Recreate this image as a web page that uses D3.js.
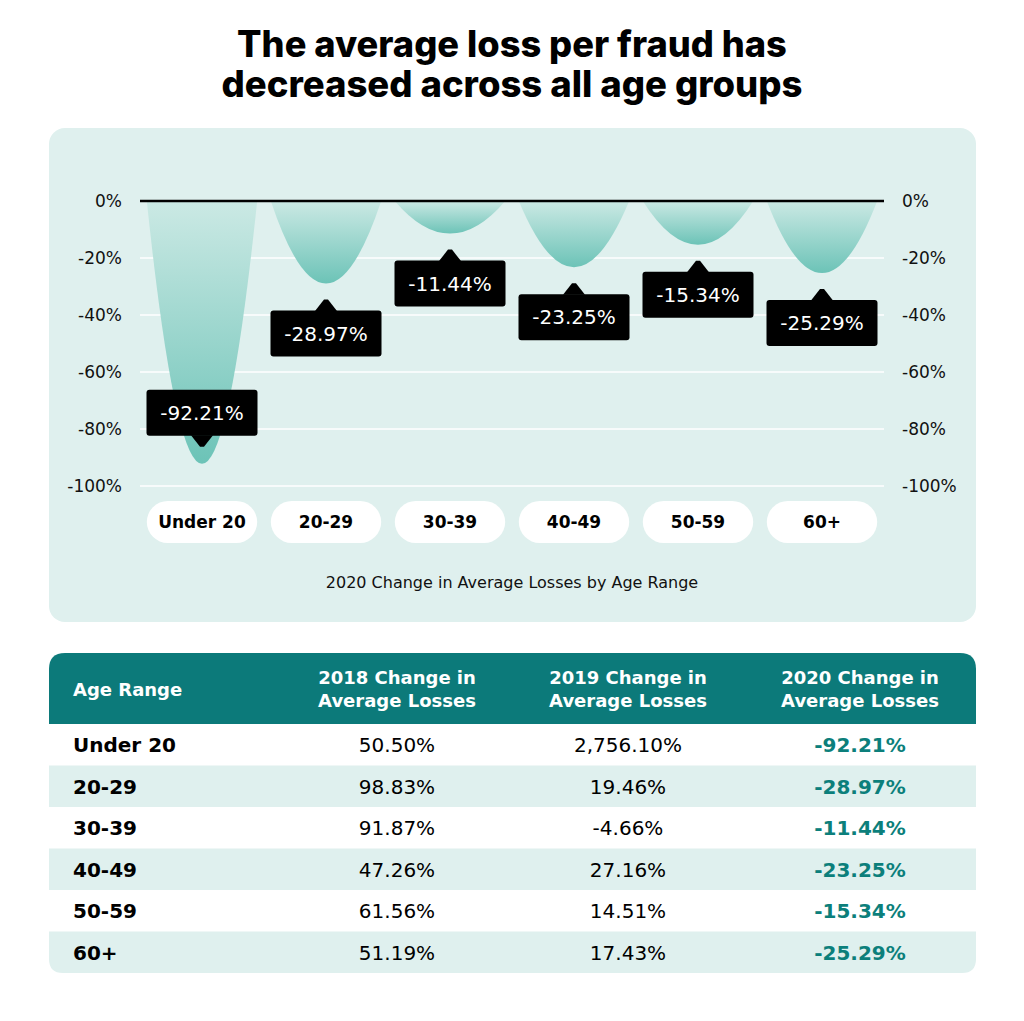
<!DOCTYPE html>
<html>
<head>
<meta charset="utf-8">
<script src="https://cdn.jsdelivr.net/npm/d3@7"></script>
<style>
  html, body { margin: 0; padding: 0; background: #ffffff; }
  svg { display: block; }
</style>
</head>
<body>
<svg id="chart" width="1024" height="1021"></svg>
<script>
// ---------------- data ----------------
const titleLines = ["The average loss per fraud has", "decreased across all age groups"];
const categories = ["Under 20", "20-29", "30-39", "40-49", "50-59", "60+"];
const change2020 = [-92.21, -28.97, -11.44, -23.25, -15.34, -25.29];
const change2018 = [50.50, 98.83, 91.87, 47.26, 61.56, 51.19];
const change2019 = [2756.10, 19.46, -4.66, 27.16, 14.51, 17.43];
const yTicks = [0, -20, -40, -60, -80, -100];
const axisTitle = "2020 Change in Average Losses by Age Range";
const tableHeaders = [["Age Range"], ["2018 Change in", "Average Losses"], ["2019 Change in", "Average Losses"], ["2020 Change in", "Average Losses"]];

// ---------------- setup ----------------
const FONT = "'DejaVu Sans', Verdana, sans-serif";
const svg = d3.select("#chart");
const fmt = d3.formatLocale({ decimal: ".", thousands: ",", grouping: [3], currency: ["", ""], minus: "-" }).format(",.2f");
const pct = v => fmt(v) + "%";

// title
const titleG = svg.append("g");
const titleTargets = [550, 581];
titleLines.forEach((t, i) => {
  const txt = titleG.append("text")
    .attr("x", 512).attr("y", 57 + i * 40)
    .attr("text-anchor", "middle")
    .attr("font-family", "Inter, 'Open Sans', sans-serif")
    .attr("font-weight", 800)
    .attr("font-size", 34)
    .attr("fill", "#000")
    .text(t);
  const w = txt.node().getComputedTextLength();
  if (w > 0) txt.attr("font-size", 34 * titleTargets[i] / w);
});

// chart panel
svg.append("rect")
  .attr("x", 49).attr("y", 128).attr("width", 927).attr("height", 494)
  .attr("rx", 16).attr("fill", "#dff0ee");

const x = d3.scaleBand().domain(categories).range([140, 884]).paddingInner(0.11).paddingOuter(0.055);
const y = d3.scaleLinear().domain([-100, 0]).range([486, 201]);

// gradient
const defs = svg.append("defs");
const grad = defs.append("linearGradient").attr("id", "cone").attr("x1", 0).attr("y1", 0).attr("x2", 0).attr("y2", 1);
grad.append("stop").attr("offset", "0%").attr("stop-color", "#cbe9e4");
grad.append("stop").attr("offset", "100%").attr("stop-color", "#6cc3b7");

// gridlines
svg.append("g")
  .selectAll("line")
  .data(yTicks.filter(d => d !== 0))
  .join("line")
  .attr("x1", 140).attr("x2", 884)
  .attr("y1", d => y(d)).attr("y2", d => y(d))
  .attr("stroke", "#ffffff").attr("stroke-width", 1.5);

// axes labels (left & right)
const leftAxis = d3.axisLeft(y).tickValues(yTicks).tickFormat(d => d + "%").tickSize(0).tickPadding(0);
const rightAxis = d3.axisRight(y).tickValues(yTicks).tickFormat(d => d + "%").tickSize(0).tickPadding(0);
const gl = svg.append("g").attr("transform", "translate(122,0)").call(leftAxis);
const gr = svg.append("g").attr("transform", "translate(902,0)").call(rightAxis);
[gl, gr].forEach(g => {
  g.select(".domain").remove();
  g.selectAll("text").attr("font-family", FONT).attr("font-size", 17).attr("fill", "#111");
});

// cone shapes (quadratic curve reaching the value)
svg.append("g")
  .selectAll("path")
  .data(categories.map((c, i) => ({ c, v: change2020[i] })))
  .join("path")
  .attr("d", d => {
    const x0 = x(d.c), x1 = x(d.c) + x.bandwidth(), xm = x0 + x.bandwidth() / 2;
    const y0 = y(0), yv = y(d.v);
    return `M${x0},${y0} Q${xm},${y0 + 2 * (yv - y0)} ${x1},${y0} Z`;
  })
  .attr("fill", "url(#cone)");

// zero line
svg.append("line")
  .attr("x1", 140).attr("x2", 884).attr("y1", y(0)).attr("y2", y(0))
  .attr("stroke", "#000").attr("stroke-width", 2.5);

// tooltips
const boxW = 111, boxH = 46, gap = 16, ptrH = 11, ptrW = 22;
const tips = svg.append("g")
  .selectAll("g")
  .data(categories.map((c, i) => ({ c, v: change2020[i] })))
  .join("g");
tips.each(function (d) {
  const g = d3.select(this);
  const xm = x(d.c) + x.bandwidth() / 2;
  const yv = y(d.v);
  const below = yv + gap + ptrH + boxH <= y(-100);
  let boxTop, tipY, baseY;
  if (below) {
    tipY = yv + gap; baseY = tipY + ptrH; boxTop = baseY;
  } else {
    tipY = yv - gap - 1; baseY = tipY - ptrH; boxTop = baseY - boxH;
  }
  g.append("rect")
    .attr("x", xm - boxW / 2).attr("y", boxTop).attr("width", boxW).attr("height", boxH)
    .attr("rx", 3).attr("fill", "#000");
  g.append("path")
    .attr("d", `M${xm - ptrW / 2},${baseY + (below ? 0.5 : -0.5)} L${xm - 2},${tipY} L${xm + 2},${tipY} L${xm + ptrW / 2},${baseY + (below ? 0.5 : -0.5)} Z`)
    .attr("fill", "#000");
  g.append("text")
    .attr("x", xm).attr("y", boxTop + boxH / 2 + 7)
    .attr("text-anchor", "middle")
    .attr("font-family", FONT).attr("font-size", 20).attr("fill", "#fff")
    .text(pct(d.v));
});

// category pills
const pills = svg.append("g").selectAll("g").data(categories).join("g");
pills.append("rect")
  .attr("x", d => x(d)).attr("y", 501).attr("width", x.bandwidth()).attr("height", 42)
  .attr("rx", 21).attr("fill", "#fff");
pills.append("text")
  .attr("x", d => x(d) + x.bandwidth() / 2).attr("y", 528)
  .attr("text-anchor", "middle")
  .attr("font-family", FONT).attr("font-weight", "bold").attr("font-size", 17).attr("fill", "#000")
  .text(d => d);

svg.append("text")
  .attr("x", 512).attr("y", 588).attr("text-anchor", "middle")
  .attr("font-family", FONT).attr("font-size", 16).attr("fill", "#111")
  .text(axisTitle);

// ---------------- table ----------------
const tX = 49, tW = 927, tTop = 653, headH = 71, rowH = 41.5, r = 16;
const colX = [73, 397, 628, 860];
// header with rounded top corners
svg.append("path")
  .attr("d", `M${tX},${tTop + headH} V${tTop + r} Q${tX},${tTop} ${tX + r},${tTop} H${tX + tW - r} Q${tX + tW},${tTop} ${tX + tW},${tTop + r} V${tTop + headH} Z`)
  .attr("fill", "#0c7a7a");
tableHeaders.forEach((lines, i) => {
  const t = svg.append("text")
    .attr("x", colX[i]).attr("text-anchor", i === 0 ? "start" : "middle")
    .attr("font-family", FONT).attr("font-weight", "bold").attr("font-size", 18).attr("fill", "#fff");
  if (lines.length === 1) {
    t.attr("y", 696).text(lines[0]);
  } else {
    lines.forEach((l, j) => t.append("tspan").attr("x", colX[i]).attr("y", 684 + j * 23).text(l));
  }
});

const rows = categories.map((c, i) => [c, change2018[i], change2019[i], change2020[i]]);
const rowsTop = tTop + headH;
const rowG = svg.append("g").selectAll("g").data(rows).join("g")
  .attr("transform", (d, i) => `translate(0,${rowsTop + i * rowH})`);
rowG.each(function (d, i) {
  const g = d3.select(this);
  if (i % 2 === 1) {
    if (i === rows.length - 1) {
      const rr = 14, h = rowH;
      g.append("path")
        .attr("d", `M${tX},0 H${tX + tW} V${h - rr} Q${tX + tW},${h} ${tX + tW - rr},${h} H${tX + rr} Q${tX},${h} ${tX},${h - rr} Z`)
        .attr("fill", "#dff0ee");
    } else {
      g.append("rect").attr("x", tX).attr("y", 0).attr("width", tW).attr("height", rowH).attr("fill", "#dff0ee");
    }
  }
  d.forEach((v, j) => {
    g.append("text")
      .attr("x", colX[j]).attr("y", rowH / 2 + 7.5)
      .attr("text-anchor", j === 0 ? "start" : "middle")
      .attr("font-family", FONT)
      .attr("font-weight", j === 0 || j === 3 ? "bold" : "normal")
      .attr("font-size", 20)
      .attr("fill", j === 3 ? "#0c7f7b" : "#000")
      .text(j === 0 ? v : pct(v));
  });
});
</script>
</body>
</html>
